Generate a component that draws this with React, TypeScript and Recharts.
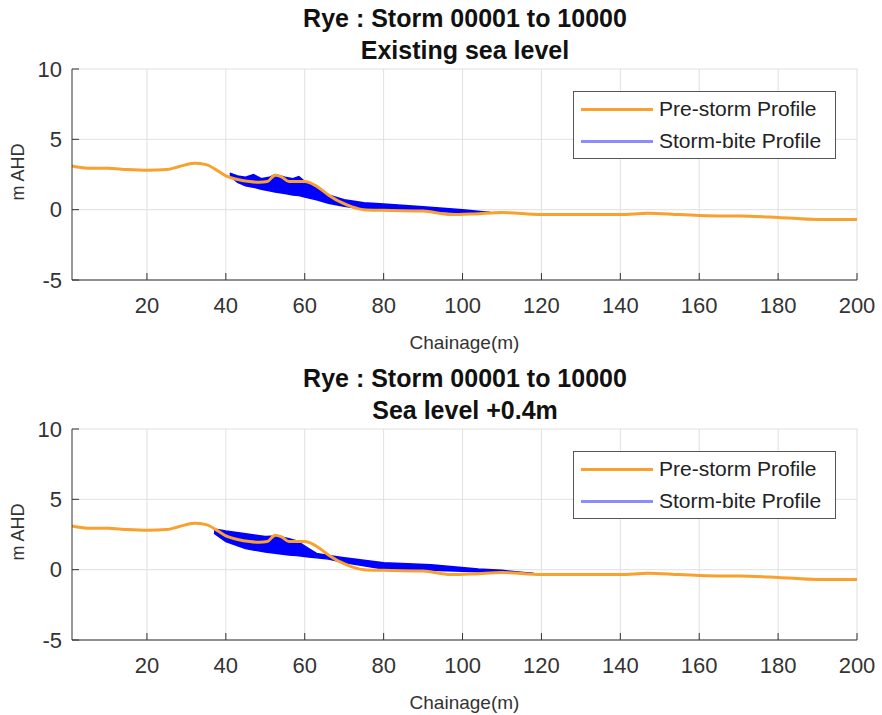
import React from "react";
import {
  ComposedChart,
  Line,
  Area,
  XAxis,
  YAxis,
  CartesianGrid,
  Legend,
} from "recharts";

// pre-storm beach profile (same for both scenarios)
const chainage = [1, 5, 10, 15, 20, 25, 28, 32, 35, 38, 40, 43, 46, 48.5, 50.5, 52.5, 54, 56, 60, 62.5, 66, 69, 72, 75, 80, 90, 97, 103, 110, 120, 130, 140, 147, 155, 165, 170, 180, 190, 200];
const preStorm = [3.1, 2.95, 2.95, 2.85, 2.8, 2.85, 3.05, 3.3, 3.2, 2.75, 2.4, 2.15, 2.0, 1.95, 2.0, 2.45, 2.35, 2.0, 2.0, 1.75, 1.05, 0.55, 0.2, 0.0, -0.05, -0.1, -0.35, -0.3, -0.2, -0.35, -0.35, -0.35, -0.25, -0.35, -0.45, -0.45, -0.55, -0.7, -0.7];

// storm-bite envelope, existing sea level
const biteX1 = [41, 43, 45, 47, 49, 51, 52.5, 55, 57, 58.5, 60, 63, 66, 70, 75, 80, 90, 100, 107];
const biteTop1 = [2.6, 2.4, 2.3, 2.5, 2.2, 2.3, 2.5, 2.3, 2.2, 2.35, 2.0, 1.7, 1.05, 0.7, 0.5, 0.4, 0.2, 0.0, -0.2];
const biteLow1 = [2.4, 1.95, 1.7, 1.6, 1.45, 1.35, 1.25, 1.15, 1.05, 1.0, 0.9, 0.7, 0.45, 0.25, 0.05, -0.05, -0.1, -0.2, -0.2];

// storm-bite envelope, sea level +0.4m
const biteX2 = [37, 40, 45, 50, 53, 56, 58, 61, 63, 66, 70, 80, 92, 104, 110, 118];
const biteTop2 = [2.9, 2.75, 2.55, 2.35, 2.4, 2.2, 2.05, 1.5, 1.15, 1.0, 0.85, 0.5, 0.35, 0.05, -0.05, -0.28];
const biteLow2 = [2.6, 2.0, 1.5, 1.25, 1.15, 1.05, 1.0, 0.9, 0.85, 0.75, 0.5, 0.05, -0.05, -0.15, -0.18, -0.28];

const xTicks = [20, 40, 60, 80, 100, 120, 140, 160, 180, 200];
const yTicks = [-5, 0, 5, 10];

const FONT = '"Liberation Sans", Arial, Helvetica, sans-serif';
const ORANGE = "#F9A12C";
const BLUE = "#0000FF";
const AXIS = "#333333";

const profileData = chainage.map((x, i) => ({ x, y: preStorm[i] }));
const band = (xs: number[], lo: number[], hi: number[]) =>
  xs.map((x, i) => ({ x, range: [lo[i], hi[i]] }));

function LegendBox() {
  const row = (color: string, label: string) => (
    <div style={{ display: "flex", alignItems: "center", height: 32 }}>
      <div style={{ width: 72, height: 3, background: color, marginRight: 6 }} />
      <span>{label}</span>
    </div>
  );
  return (
    <div
      style={{
        border: "1px solid #555",
        background: "#fff",
        width: 254,
        padding: "1px 0 1px 7px",
        fontSize: 21,
        color: "#222",
        fontFamily: FONT,
      }}
    >
      {row(ORANGE, "Pre-storm Profile")}
      {row("#8C8CFF", "Storm-bite Profile")}
    </div>
  );
}

function Panel({ subtitle, top, bite }: { subtitle: string; top: number; bite: any[] }) {
  return (
    <div style={{ position: "absolute", left: 0, top, width: 882, height: 360 }}>
      <div
        style={{
          position: "absolute",
          left: 72,
          width: 786,
          top: 2,
          textAlign: "center",
          fontWeight: "bold",
          fontSize: 25,
          lineHeight: "32px",
          color: "#111",
        }}
      >
        <div>Rye : Storm 00001 to 10000</div>
        <div>{subtitle}</div>
      </div>
      <div
        style={{
          position: "absolute",
          left: 18,
          top: 172,
          transform: "translate(-50%, -50%) rotate(-90deg)",
          fontSize: 18,
          color: "#333",
          whiteSpace: "nowrap",
        }}
      >
        m AHD
      </div>
      <ComposedChart
        width={882}
        height={360}
        margin={{ top: 69, right: 25, bottom: 0, left: 0 }}
      >
        <CartesianGrid stroke="#e0e0e0" horizontalValues={yTicks} verticalValues={xTicks} />
        <XAxis
          dataKey="x"
          type="number"
          domain={[1, 200]}
          ticks={xTicks}
          allowDataOverflow
          height={80}
          stroke={AXIS}
          tickSize={-7}
          tickMargin={24}
          tick={{ fontSize: 22, fill: "#333", fontFamily: FONT }}
          label={{
            value: "Chainage(m)",
            position: "insideBottom",
            offset: 11,
            style: { fontSize: 19, fill: "#333", fontFamily: FONT },
          }}
        />
        <YAxis
          type="number"
          domain={[-5, 10]}
          ticks={yTicks}
          width={72}
          stroke={AXIS}
          tickSize={-7}
          tickMargin={17}
          tick={{ fontSize: 22, fill: "#333", fontFamily: FONT }}
        />
        <Legend
          layout="horizontal"
          verticalAlign="middle"
          wrapperStyle={{ left: 573, top: 91, width: 262 }}
          content={() => <LegendBox />}
        />
        <Area
          data={bite}
          dataKey="range"
          type="linear"
          stroke={BLUE}
          strokeWidth={1.5}
          fill={BLUE}
          fillOpacity={1}
          isAnimationActive={false}
        />
        <Line
          data={profileData}
          dataKey="y"
          type="monotone"
          stroke={ORANGE}
          strokeWidth={3}
          dot={false}
          isAnimationActive={false}
        />
      </ComposedChart>
    </div>
  );
}

export default function App() {
  return (
    <div
      style={{
        position: "absolute",
        left: 0,
        top: 0,
        width: 882,
        height: 715,
        background: "#fff",
        fontFamily: FONT,
      }}
    >
      <Panel subtitle="Existing sea level" top={0} bite={band(biteX1, biteLow1, biteTop1)} />
      <Panel subtitle="Sea level +0.4m" top={360} bite={band(biteX2, biteLow2, biteTop2)} />
    </div>
  );
}
